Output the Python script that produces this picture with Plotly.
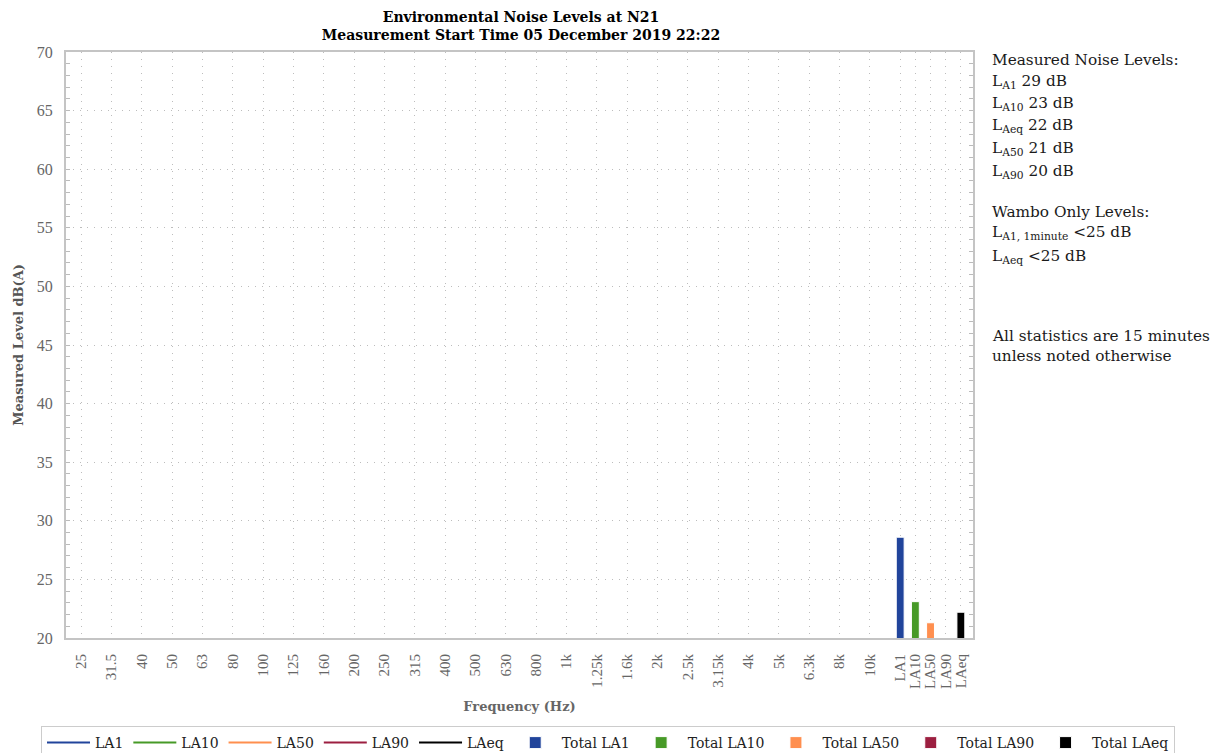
import plotly.graph_objects as go

# ---------------- data ----------------
freq_labels = ["25", "31.5", "40", "50", "63", "80", "100", "125", "160", "200", "250",
               "315", "400", "500", "630", "800", "1k", "1.25k", "1.6k", "2k", "2.5k",
               "3.15k", "4k", "5k", "6.3k", "8k", "10k"]
stat_labels = ["LA1", "LA10", "LA50", "LA90", "LAeq"]
total_values = [28.6, 23.1, 21.3, 20.0, 22.2]
# spectral series (no visible data in the reference)
spectra = {
    "LA1": [None] * len(freq_labels),
    "LA10": [None] * len(freq_labels),
    "LA50": [None] * len(freq_labels),
    "LA90": [None] * len(freq_labels),
    "LAeq": [None] * len(freq_labels),
}
colors = {"LA1": "#21449b", "LA10": "#479a27", "LA50": "#ff8f4f",
          "LA90": "#9c1f40", "LAeq": "#000000"}

side_lines = [
    ("Measured Noise Levels:", 60),
    ("L<sub>A1</sub> 29 dB", 82),
    ("L<sub>A10</sub> 23 dB", 104),
    ("L<sub>Aeq</sub> 22 dB", 126),
    ("L<sub>A50</sub> 21 dB", 149),
    ("L<sub>A90</sub> 20 dB", 172),
    ("Wambo Only Levels:", 212),
    ("L<sub>A1, 1minute</sub> <25 dB", 233),
    ("L<sub>Aeq</sub> <25 dB", 257),
    ("All statistics are 15 minutes", 336),
    ("unless noted otherwise", 356),
]

# ---------------- positions on the axis ----------------
n_f = len(freq_labels)
freq_x = list(range(n_f))
stat_x = [n_f + 0.5 * i for i in range(len(stat_labels))]

W, H = 1216, 753
L, R, T, B = 66, 243, 52, 115
plot_w, plot_h = W - L - R, H - T - B

SERIF = "DejaVu Serif"
TICKF = "Liberation Serif"
GRID = "#bdbdbd"

fig = go.Figure()

for name in stat_labels:
    fig.add_trace(go.Scatter(x=freq_x, y=spectra[name], mode="lines", name=name,
                             line=dict(color=colors[name], width=2)))

for name, xv, val in zip(stat_labels, stat_x, total_values):
    fig.add_trace(go.Bar(x=[xv], y=[val], width=0.26, name="Total " + name,
                         marker=dict(color=colors[name], line=dict(color="white", width=1))))

annotations = []
for txt, ypix in side_lines:
    annotations.append(dict(
        text=txt, xref="paper", yref="paper",
        x=(990 - L) / plot_w, y=(H - B - ypix) / plot_h,
        xanchor="left", yanchor="middle", showarrow=False, align="left",
        font=dict(family=SERIF, size=15.3, color="#1a1a1a")))

fig.update_layout(
    width=W, height=H,
    margin=dict(l=L, r=R, t=T, b=B, autoexpand=False),
    paper_bgcolor="white", plot_bgcolor="white",
    barmode="overlay",
    title=dict(text="<b>Environmental Noise Levels at N21<br>Measurement Start Time 05 December 2019 22:22</b>",
               x=521 / W, xanchor="center", y=1 - 22 / H, yanchor="top",
               font=dict(family=SERIF, size=14, color="#000000")),
    xaxis=dict(
        range=[-0.5, n_f + 2.4], automargin=False,
        tickmode="array", tickvals=freq_x + stat_x, ticktext=freq_labels + stat_labels,
        tickangle=-90, ticks="", ticklabelstandoff=8,
        tickfont=dict(family=TICKF, size=15, color="#666666"),
        showgrid=True, gridcolor=GRID, griddash="1px,6px", gridwidth=1,
        showline=True, linecolor="#c4c4c4", linewidth=2, mirror=True,
        zeroline=False,
        title=dict(text="<b>Frequency (Hz)</b>", standoff=14,
                   font=dict(family=SERIF, size=13, color="#666666")),
    ),
    yaxis=dict(
        range=[20, 70], dtick=5, tick0=20, automargin=False,
        ticks="inside", ticklen=4, tickcolor="#bbbbbb", ticklabelstandoff=8,
        tickfont=dict(family=TICKF, size=16, color="#666666"),
        showgrid=True, gridcolor=GRID, griddash="1px,6px", gridwidth=1,
        showline=True, linecolor="#c4c4c4", linewidth=2, mirror="ticks",
        zeroline=False,
        minor=dict(dtick=1, ticks="inside", ticklen=4, tickcolor="#bbbbbb", showgrid=False),
        title=dict(text="<b>Measured Level dB(A)</b>", standoff=10,
                   font=dict(family=SERIF, size=13, color="#555555")),
    ),
    legend=dict(orientation="h", xref="paper", yref="paper",
                x=(1175 - L) / plot_w, xanchor="right",
                y=(H - B - 726) / plot_h, yanchor="top",
                bordercolor="#cccccc", borderwidth=1, bgcolor="white",
                itemwidth=43,
                font=dict(family=SERIF, size=14, color="#222222"),
                traceorder="normal"),
    annotations=annotations,
)

fig.write_html("out.html", config={"displayModeBar": False},
               post_script="document.body.style.margin='0';")
